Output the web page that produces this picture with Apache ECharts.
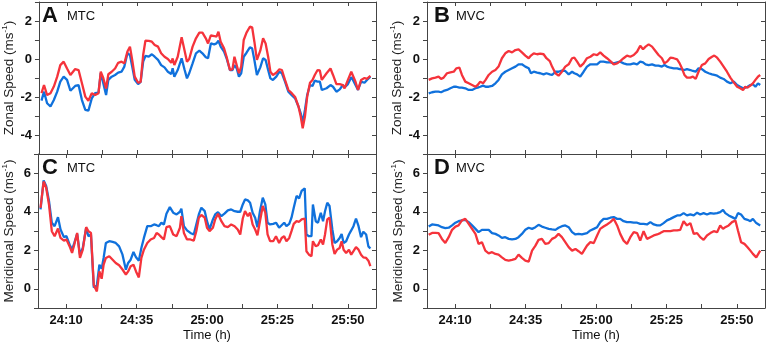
<html>
<head>
<meta charset="utf-8">
<title>Zonal / Meridional Speed</title>
<script src="https://cdn.jsdelivr.net/npm/echarts@6/dist/echarts.min.js"></script>
</head>
<body style="margin:0;background:#fff">
<div id="main" style="width:768px;height:344px;"></div>
<script>
// time in minutes after 24:00
var tA = [0.9,1.8,2.9,4.1,5.3,6.5,7.6,8.8,10.0,11.2,11.8,12.9,14.1,15.3,16.5,17.6,18.8,20.0,21.2,22.0,
  22.9,23.9,24.7,25.9,27.1,28.2,29.4,30.4,31.5,32.4,33.2,34.1,35.3,36.2,37.1,37.9,39.1,40.2,41.2,42.4,
  43.5,44.7,45.9,47.1,47.6,48.2,49.4,50.8,51.8,52.7,53.5,54.7,55.9,57.1,58.2,59.4,60.2,61.2,62.4,63.2,
  63.9,64.7,65.9,66.8,68.0,68.9,69.6,70.4,71.2,72.0,72.9,73.9,75.1,75.9,76.7,77.6,78.8,79.8,80.7,81.6,
  82.4,83.3,84.5,85.6,86.5,87.6,88.8,90.0,91.2,92.4,93.2,93.9,94.7,95.5,96.5,97.4,98.2,99.2,100.0,100.7,
  101.4,102.4,103.8,104.7,105.9,107.1,108.2,108.8,110.0,111.2,111.8,112.7,113.6,114.7,115.9,116.8,118.0];
var redA = [-1.8,-1.37,-1.9,-1.8,-1.45,-0.93,-0.32,-0.14,-0.5,-0.84,-0.84,-0.53,-0.58,-1.28,-1.98,-2.2,-1.8,-1.9,-1.8,-0.67,
  -1.0,-1.55,-0.8,-0.67,-0.5,-0.2,-0.14,-0.23,0.39,0.65,-0.05,-0.93,-1.25,-1.2,0.21,0.96,0.95,0.91,0.74,0.65,
  0.3,0.12,0,-0.2,0.03,-0.32,0.12,1.14,0.47,-0.14,0,0.65,1.09,1.39,1.39,1.09,0.82,1.25,1.21,1.18,
  1.44,0.91,0.56,0.12,-0.58,-0.54,0.12,-0.32,-0.75,-0.4,1.0,1.39,1.7,1.67,0.91,-0.05,0.44,1.09,0.82,0.12,
  -0.67,-0.84,-0.72,-0.54,-0.58,-1.1,-1.63,-1.8,-2.0,-2.5,-3.03,-3.65,-3.03,-1.98,-1.25,-1.1,-0.84,-0.58,-0.6,-1.1,
  -1.14,-0.75,-0.5,-0.84,-1.32,-1.32,-1.37,-1.55,-1.1,-0.67,-0.58,-1.2,-1.63,-1.1,-1.0,-1.05,-0.88];
var blueA = [-2.19,-1.72,-2.33,-2.5,-2.16,-1.72,-1.19,-0.93,-1.1,-1.67,-1.68,-1.42,-1.37,-2.16,-2.68,-2.72,-2.07,-1.8,-1.77,-0.75,
  -1.28,-1.9,-1.1,-0.93,-0.84,-0.72,-0.67,-0.4,0.3,0.21,-0.4,-1.1,-1.32,-1.2,-0.14,0.16,0.12,0.25,0.12,-0.05,
  -0.32,-0.44,-0.67,-0.79,-0.49,-0.93,-0.58,0.04,-0.54,-1.02,-0.75,-0.23,0.3,0.44,0.3,0.09,0.04,0.82,0.77,0.82,
  0.96,0.65,0.39,0.04,-0.58,-0.58,-0.32,-0.49,-0.93,-0.75,0.12,0.33,0.61,0.56,-0.05,-0.84,-0.44,0.04,-0.05,-0.58,
  -1.02,-1.1,-0.93,-0.67,-0.75,-1.19,-1.72,-1.9,-2.07,-2.5,-2.86,-3.35,-2.68,-1.9,-1.37,-1.42,-1.14,-1.19,-1.19,-1.63,
  -1.67,-1.54,-1.37,-1.46,-1.72,-1.6,-1.37,-1.49,-1.32,-0.96,-1.1,-1.37,-1.63,-1.19,-1.25,-1.1,-0.93];

var tB = [0.6,1.8,3.0,4.1,5.0,5.9,7.1,8.3,9.5,10.4,11.5,12.4,13.6,14.8,16.0,17.2,18.0,18.9,19.9,20.8,
  21.9,23.1,24.3,25.4,26.6,27.8,29.0,30.2,31.4,32.5,33.7,34.9,36.1,36.9,37.9,39.1,40.2,41.4,42.4,43.6,
  44.4,45.6,46.7,47.9,49.1,50.3,51.5,52.3,53.3,54.4,55.6,56.8,58.0,59.2,60.4,61.5,62.7,63.9,65.1,66.3,
  67.5,68.6,69.8,71.0,72.2,73.4,74.6,75.7,76.7,77.6,78.7,79.9,81.1,82.2,83.4,84.3,85.2,86.4,87.6,88.8,
  89.7,90.5,91.4,92.3,93.5,94.4,95.4,96.4,97.6,98.8,100.0,101.2,102.0,103.0,104.1,105.3,106.5,107.7,108.9,110.1,
  111.2,112.2,113.0,113.8,114.8,115.7,116.6,117.5,118.3];
var redB = [-1.1,-1.02,-0.98,-0.93,-1.05,-0.98,-0.75,-0.7,-0.67,-0.49,-0.46,-0.84,-1.19,-1.28,-1.37,-1.46,-1.37,-1.19,-1.28,-1.1,
  -0.84,-0.67,-0.58,-0.4,0.04,0.3,0.42,0.35,0.47,0.51,0.35,0.18,0.04,0.18,0.3,0.25,0.28,0.25,0.04,-0.11,
  -0.4,-0.75,-0.88,-0.67,-0.4,-0.28,0.04,0.07,-0.14,-0.4,-0.23,0.04,0.12,0.25,0.21,0.35,0.18,0.04,-0.11,-0.28,
  -0.23,-0.11,0.04,0.18,0.12,0.21,0.39,0.7,0.51,0.65,0.77,0.65,0.42,0.21,0.04,-0.23,-0.14,0.07,0.04,-0.02,
  -0.23,-0.49,-0.84,-0.98,-0.98,-0.93,-1.05,-0.67,-0.32,-0.23,0,0.12,0.18,0.07,-0.14,-0.4,-0.67,-0.98,-1.23,-1.46,
  -1.54,-1.63,-1.46,-1.51,-1.4,-1.28,-1.1,-0.93,-0.84];
var blueB = [-1.81,-1.75,-1.72,-1.72,-1.75,-1.68,-1.63,-1.54,-1.46,-1.46,-1.51,-1.51,-1.54,-1.63,-1.63,-1.54,-1.51,-1.46,-1.4,-1.46,
  -1.46,-1.42,-1.28,-1.1,-0.81,-0.67,-0.58,-0.49,-0.4,-0.28,-0.28,-0.4,-0.49,-0.75,-0.67,-0.72,-0.75,-0.81,-0.75,-0.81,
  -0.84,-0.67,-0.67,-0.61,-0.63,-0.81,-0.67,-0.75,-0.81,-0.93,-0.67,-0.4,-0.28,-0.28,-0.28,-0.14,-0.14,-0.18,-0.18,-0.23,
  -0.18,-0.14,-0.23,-0.28,-0.28,-0.23,-0.28,-0.14,-0.18,-0.28,-0.32,-0.28,-0.35,-0.35,-0.4,-0.32,-0.4,-0.46,-0.49,-0.49,
  -0.53,-0.54,-0.58,-0.53,-0.58,-0.63,-0.67,-0.49,-0.53,-0.67,-0.75,-0.81,-0.84,-0.88,-0.98,-1.05,-1.19,-1.28,-1.19,-1.37,
  -1.46,-1.54,-1.51,-1.46,-1.37,-1.33,-1.46,-1.28,-1.37];

var tC = [0.9,2.0,2.9,3.9,4.9,5.9,7.1,8.0,9.2,10.1,11.2,12.1,12.9,13.9,14.9,15.9,17.1,17.9,18.8,19.2,
  19.8,20.9,21.8,22.6,23.3,24.1,25.3,26.5,27.6,28.8,30.0,31.2,32.0,32.9,33.9,34.8,35.8,36.7,37.6,38.8,
  40.0,41.2,42.1,42.9,43.8,44.7,45.6,46.8,48.0,49.2,50.4,50.9,51.8,52.9,54.1,55.3,56.2,57.1,58.0,59.2,
  60.0,60.9,62.1,62.9,63.9,65.1,66.2,67.4,68.6,69.8,70.9,71.8,72.7,73.5,74.5,75.3,76.2,77.1,77.9,78.8,
  79.8,80.7,81.5,82.4,83.5,84.5,85.6,86.5,87.4,88.2,89.2,90.0,90.8,91.8,92.7,93.6,94.7,95.3,96.2,97.1,
  97.6,98.6,99.4,100.4,101.2,101.9,102.7,103.5,104.5,105.3,106.2,107.1,107.8,108.5,109.4,110.4,111.2,112.0,112.9,113.8,
  114.7,115.5,116.5,117.3,118.0];
var redC = [4.2,5.57,5.25,4.38,2.99,2.73,3.13,2.64,2.5,2.56,2.21,1.86,2.3,2.9,1.6,2.03,3.2,2.99,2.9,2.9,
  0.2,-0.14,0.9,0.52,1.25,1.6,1.69,1.51,1.34,1.22,1.0,0.73,0.9,1.17,1.25,0.9,0.59,1.6,2.03,2.38,
  2.56,2.64,2.9,2.82,2.68,2.56,3.2,3.25,2.82,2.73,3.17,3.77,2.9,2.56,2.56,2.5,2.99,3.69,3.83,3.69,
  3.17,2.99,3.17,3.6,3.9,3.51,3.25,3.2,3.34,3.25,3.08,2.82,3.65,4.03,3.77,3.95,3.34,3.08,2.78,3.51,
  4.3,3.95,2.82,2.47,2.47,2.73,2.38,2.64,2.73,2.47,2.64,2.99,3.37,3.51,3.48,3.6,3.65,1.95,1.77,1.69,
  2.47,2.21,2.26,2.56,2.3,2.82,3.6,3.69,2.3,1.81,2.03,2.12,2.47,2.03,1.86,2.03,1.77,1.95,2.16,2.03,
  1.77,1.63,1.6,1.46,1.17];
var blueC = [4.12,5.63,5.34,4.56,3.43,3.25,3.72,3.08,2.68,2.73,2.3,2.03,2.38,2.85,1.77,2.12,3.17,2.73,2.82,2.82,
  0.07,0.17,1.25,1.04,1.6,2.38,2.47,2.43,2.38,2.2,1.77,0.99,1.34,1.51,1.91,1.63,1.46,2.12,2.64,3.25,
  3.25,3.34,3.3,3.25,3.43,3.34,3.9,4.24,3.95,3.86,4.0,4.16,3.25,3.03,2.9,2.82,3.34,3.86,4.21,4.03,
  3.51,3.08,3.6,3.86,3.98,3.77,3.9,4.07,4.12,4.03,4.0,4.0,4.38,4.64,4.59,4.47,3.95,3.69,3.2,4.03,
  4.73,4.38,3.43,3.34,3.37,3.43,3.17,3.3,3.43,3.25,3.37,3.69,4.21,4.82,4.7,5.08,5.22,2.82,2.73,2.73,
  4.38,3.51,3.43,3.95,3.51,4.03,4.47,4.3,3.08,2.38,2.47,2.64,2.85,2.38,2.47,2.82,3.03,3.25,3.65,3.25,
  2.68,2.96,2.82,2.2,2.09];

var tD = [0.6,1.8,3.0,4.1,5.3,6.5,7.7,8.9,10.1,11.2,12.4,13.6,14.8,16.0,17.2,18.3,19.5,20.7,21.9,23.1,
  24.3,25.4,26.6,27.8,29.0,30.2,31.4,32.5,33.7,34.9,36.1,37.3,38.5,39.6,40.8,42.0,43.2,44.4,45.6,46.7,
  47.9,49.1,50.3,51.5,52.7,53.8,55.0,56.8,58.0,59.2,60.4,61.5,62.7,63.9,65.1,66.3,67.5,68.6,69.8,71.0,
  72.2,73.4,74.6,75.7,76.9,78.1,79.3,80.5,81.7,82.8,84.0,85.2,86.4,87.6,88.8,89.9,91.1,92.3,93.5,94.7,
  95.9,97.0,98.2,99.4,100.6,101.8,103.0,104.1,105.1,105.9,107.1,108.3,109.5,110.4,111.5,112.7,113.8,114.8,115.7,116.9,
  118.3];
var redD = [2.8,2.9,2.9,2.89,2.59,2.38,2.68,3.06,3.23,3.29,3.55,3.63,3.37,3.11,2.85,2.33,2.42,1.98,1.84,1.9,
  1.81,1.77,1.63,1.5,1.46,1.5,1.55,1.77,1.6,1.46,1.41,1.98,2.24,2.54,2.59,2.33,2.37,2.59,2.68,2.85,
  2.68,2.42,2.16,1.98,2.07,1.95,1.81,2.24,2.42,2.37,2.77,3.11,3.23,3.34,3.46,3.63,3.29,2.85,2.5,2.33,
  2.68,2.94,2.89,2.5,2.99,2.59,2.68,2.77,2.82,2.89,2.99,2.99,2.99,3.03,3.03,3.06,3.51,3.29,3.41,2.85,
  2.89,2.68,2.54,2.77,2.89,2.99,2.94,3.29,3.11,3.2,3.29,3.46,3.55,3.03,2.42,2.33,2.16,1.98,1.81,1.63,
  1.98];
var blueD = [3.23,3.34,3.32,3.29,3.2,3.15,3.17,3.29,3.43,3.51,3.55,3.58,3.46,3.29,3.11,2.94,3.06,3.06,3.06,2.89,
  2.85,2.77,2.64,2.68,2.59,2.56,2.59,2.68,2.85,3.06,3.17,3.11,3.2,3.32,3.23,3.17,3.11,3.08,3.06,3.17,
  3.25,3.29,3.2,2.94,2.82,2.85,2.82,2.89,3.03,3.11,3.2,3.46,3.63,3.63,3.69,3.72,3.63,3.63,3.51,3.46,
  3.46,3.43,3.43,3.37,3.37,3.34,3.46,3.34,3.29,3.29,3.41,3.55,3.63,3.72,3.81,3.81,3.93,3.81,3.86,3.81,
  3.95,3.86,3.93,3.86,3.93,3.9,3.93,3.98,4.1,3.93,3.81,3.72,3.63,3.93,3.86,3.63,3.58,3.51,3.63,3.41,
  3.29];

var timeTicks = [10,22.5,35,47.5,60,72.5,85,97.5,110];
var timeLabels = [10,35,60,85,110];
var zonalLabels = [-4,-2,0,2];
var meridLabels = [0,2,4,6];

var RED = '#f5333b', BLUE = '#1071dc', AXC = '#444';
var FONT = "'Liberation Sans', Arial, sans-serif";

var panels = [
  {left:36, top:2, width:340, height:152, ymin:-5, ymax:3, ylab:zonalLabels, name:'Zonal Speed (ms{s|-1})', bottom:false, t:tA, r:redA, b:blueA},
  {left:427, top:2, width:338, height:152, ymin:-5, ymax:3, ylab:zonalLabels, name:'Zonal Speed (ms{s|-1})', bottom:false, t:tB, r:redB, b:blueB},
  {left:36, top:154, width:340, height:154, ymin:-1, ymax:7, ylab:meridLabels, name:'Meridional Speed (ms{s|-1})', bottom:true, t:tC, r:redC, b:blueC},
  {left:427, top:154, width:338, height:154, ymin:-1, ymax:7, ylab:meridLabels, name:'Meridional Speed (ms{s|-1})', bottom:true, t:tD, r:redD, b:blueD}
];

function fmtTime(m){
  var h = 24 + Math.floor(m/60), mm = Math.round(m%60);
  return h + ':' + (mm<10?'0':'') + mm;
}

var grid = [], xAxis = [], yAxis = [], series = [];
panels.forEach(function(p, i){
  grid.push({left:p.left, top:p.top, width:p.width, height:p.height, show:false});
  // bottom + top x axes
  xAxis.push({
    type:'value', gridIndex:i, position:'bottom', min:0, max:120,
    axisLine:{onZero:false, lineStyle:{color:AXC, width:1}},
    axisTick:{inside:true, length:4, customValues:timeTicks, lineStyle:{color:AXC}},
    axisLabel:{show:p.bottom, customValues:timeLabels, formatter:fmtTime, margin:6,
      color:'#111', fontWeight:'bold', fontSize:13, fontFamily:FONT},
    splitLine:{show:false},
    name:p.bottom ? 'Time (h)' : '', nameLocation:'middle', nameGap:21,
    nameTextStyle:{color:'#111', fontSize:13, fontFamily:FONT}
  });
  xAxis.push({
    type:'value', gridIndex:i, position:'top', min:0, max:120,
    axisLine:{onZero:false, lineStyle:{color:AXC, width:1}},
    axisTick:{inside:true, length:4, customValues:timeTicks, lineStyle:{color:AXC}},
    axisLabel:{show:false}, splitLine:{show:false}
  });
  yAxis.push({
    type:'value', gridIndex:i, position:'left', min:p.ymin, max:p.ymax, interval:1,
    axisLine:{show:true, onZero:false, lineStyle:{color:AXC, width:1}},
    axisTick:{show:true, length:4, lineStyle:{color:AXC}},
    axisLabel:{customValues:p.ylab, margin:7, color:'#111', fontWeight:'bold', fontSize:13, fontFamily:FONT},
    splitLine:{show:false},
    name:p.name, nameLocation:'middle', nameGap:20,
    nameTextStyle:{color:'#222', fontSize:13.5, fontFamily:FONT,
      rich:{s:{fontSize:8, fontFamily:FONT, color:'#222', padding:[0,0,9,0]}}}
  });
  yAxis.push({
    type:'value', gridIndex:i, position:'right', min:p.ymin, max:p.ymax, interval:1,
    axisLine:{show:true, onZero:false, lineStyle:{color:AXC, width:1}},
    axisTick:{show:true, inside:true, length:4, lineStyle:{color:AXC}},
    axisLabel:{show:false}, splitLine:{show:false}
  });
  series.push({
    type:'line', xAxisIndex:2*i, yAxisIndex:2*i, showSymbol:false, symbol:'none',
    lineStyle:{color:BLUE, width:2.3}, itemStyle:{color:BLUE},
    data:p.t.map(function(t,k){ return [t, p.b[k]]; })
  });
  series.push({
    type:'line', xAxisIndex:2*i, yAxisIndex:2*i, showSymbol:false, symbol:'none',
    lineStyle:{color:RED, width:2.3}, itemStyle:{color:RED},
    data:p.t.map(function(t,k){ return [t, p.r[k]]; })
  });
});

// panel letters
var letters = [['A','MTC',42,67,16],['B','MVC',434,456,16],['C','MTC',42,67,168],['D','MVC',434,456,168]];
var graphic = [];
letters.forEach(function(l){
  graphic.push({type:'text', left:l[2], top:l[4]-11,
    style:{text:l[0], font:'bold 22px ' + FONT, fill:'#111'}});
  graphic.push({type:'text', left:l[3], top:l[4]-6,
    style:{text:l[1], font:'13px ' + FONT, fill:'#111'}});
});

var chart = echarts.init(document.getElementById('main'));
chart.setOption({
  animation:false,
  backgroundColor:'#fff',
  grid:grid, xAxis:xAxis, yAxis:yAxis, series:series, graphic:graphic
});
</script>
</body>
</html>
